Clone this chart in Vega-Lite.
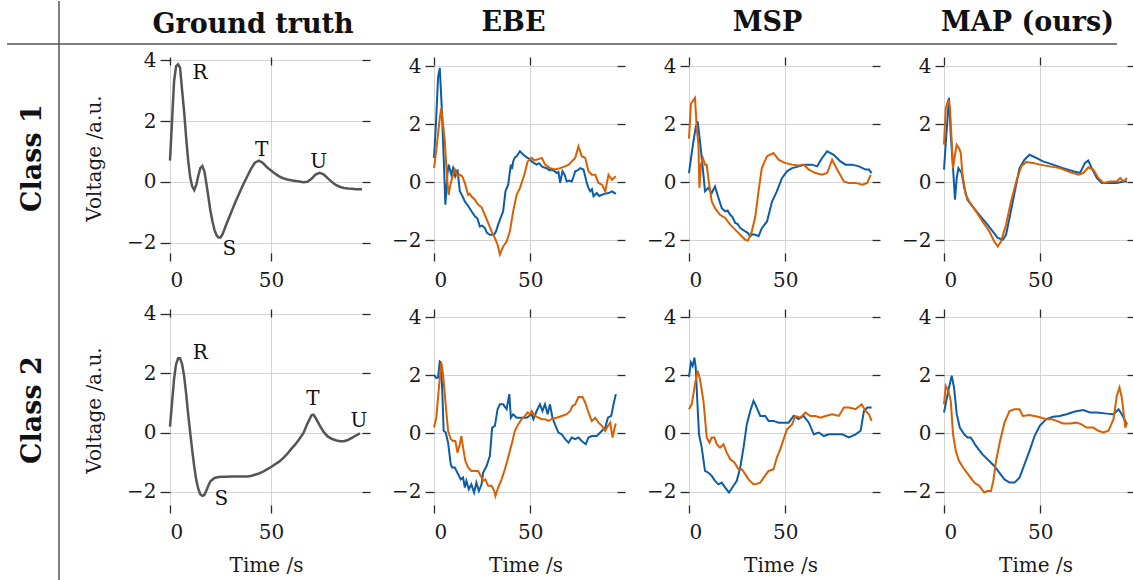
{
"$schema": "https://vega.github.io/schema/vega-lite/v6.json",
"padding": {"left": 6, "top": 0, "right": 0, "bottom": 0},
"bounds": "flush",
"spacing": 0,
"config": {
 "view": {"stroke": null},
 "font": "DejaVu Serif",
 "axis": {"domain": false, "labelFont": "DejaVu Serif", "labelFontSize": 20, "labelColor": "#1a1a1a", "titleFont": "DejaVu Serif", "titleFontSize": 20, "titleFontWeight": "normal", "titleColor": "#1a1a1a", "gridColor": "#d4d4d4", "gridWidth": 1, "tickColor": "#2a2a2a", "tickWidth": 1.3},
 "title": {"font": "DejaVu Serif", "fontWeight": "bold", "fontSize": 27, "color": "#111111"}
},
"datasets": {
 "gt1": [{"t":0,"v":0.7},{"t":1,"v":2.0},{"t":2,"v":3.3},{"t":3,"v":3.8},{"t":4,"v":3.87},{"t":5,"v":3.75},{"t":6,"v":3.0},{"t":7,"v":2.3},{"t":8,"v":1.45},{"t":9,"v":0.7},{"t":10,"v":0.14},{"t":11,"v":-0.15},{"t":12,"v":-0.27},{"t":13,"v":-0.1},{"t":14,"v":0.2},{"t":15,"v":0.45},{"t":16,"v":0.52},{"t":17,"v":0.35},{"t":18,"v":-0.05},{"t":19,"v":-0.5},{"t":20,"v":-0.95},{"t":21,"v":-1.3},{"t":22,"v":-1.58},{"t":23,"v":-1.75},{"t":24,"v":-1.83},{"t":25,"v":-1.83},{"t":26,"v":-1.72},{"t":27,"v":-1.55},{"t":28,"v":-1.38},{"t":30,"v":-1.05},{"t":32,"v":-0.72},{"t":34,"v":-0.42},{"t":36,"v":-0.12},{"t":38,"v":0.15},{"t":40,"v":0.42},{"t":42,"v":0.63},{"t":44,"v":0.7},{"t":46,"v":0.62},{"t":48,"v":0.48},{"t":50,"v":0.37},{"t":52,"v":0.27},{"t":54,"v":0.18},{"t":56,"v":0.12},{"t":58,"v":0.08},{"t":60,"v":0.05},{"t":62,"v":0.03},{"t":64,"v":0.01},{"t":66,"v":-0.01},{"t":68,"v":0.0},{"t":70,"v":0.1},{"t":72,"v":0.24},{"t":74,"v":0.3},{"t":76,"v":0.25},{"t":78,"v":0.12},{"t":80,"v":0.0},{"t":82,"v":-0.1},{"t":84,"v":-0.16},{"t":86,"v":-0.2},{"t":88,"v":-0.22},{"t":90,"v":-0.23},{"t":92,"v":-0.24},{"t":95,"v":-0.24}],
 "gt2": [{"t":0,"v":0.2},{"t":1,"v":1.0},{"t":2,"v":1.8},{"t":3,"v":2.3},{"t":4,"v":2.5},{"t":5,"v":2.5},{"t":6,"v":2.3},{"t":7,"v":1.9},{"t":8,"v":1.3},{"t":9,"v":0.6},{"t":10,"v":0.0},{"t":11,"v":-0.6},{"t":12,"v":-1.15},{"t":13,"v":-1.6},{"t":14,"v":-1.9},{"t":15,"v":-2.08},{"t":16,"v":-2.13},{"t":17,"v":-2.1},{"t":18,"v":-1.95},{"t":19,"v":-1.78},{"t":20,"v":-1.64},{"t":22,"v":-1.53},{"t":24,"v":-1.5},{"t":26,"v":-1.49},{"t":28,"v":-1.49},{"t":30,"v":-1.48},{"t":34,"v":-1.48},{"t":38,"v":-1.48},{"t":40,"v":-1.46},{"t":42,"v":-1.42},{"t":44,"v":-1.38},{"t":46,"v":-1.32},{"t":48,"v":-1.24},{"t":50,"v":-1.16},{"t":52,"v":-1.07},{"t":54,"v":-0.98},{"t":56,"v":-0.86},{"t":58,"v":-0.72},{"t":60,"v":-0.55},{"t":62,"v":-0.4},{"t":64,"v":-0.22},{"t":66,"v":-0.02},{"t":68,"v":0.3},{"t":70,"v":0.58},{"t":71,"v":0.6},{"t":72,"v":0.5},{"t":74,"v":0.25},{"t":76,"v":0.02},{"t":78,"v":-0.13},{"t":80,"v":-0.21},{"t":82,"v":-0.26},{"t":84,"v":-0.29},{"t":86,"v":-0.29},{"t":88,"v":-0.25},{"t":90,"v":-0.18},{"t":92,"v":-0.1},{"t":94,"v":-0.03}],
 "ann1": [{"t":14.9,"v":3.59,"lab":"R"},{"t":29.4,"v":-2.2,"lab":"S"},{"t":45.3,"v":1.05,"lab":"T"},{"t":73.6,"v":0.66,"lab":"U"}],
 "ann2": [{"t":15,"v":2.67,"lab":"R"},{"t":25.4,"v":-2.25,"lab":"S"},{"t":70.7,"v":1.12,"lab":"T"},{"t":93.5,"v":0.38,"lab":"U"}],
 "ebe1": [
  {"s":"a","t":0,"v":0.83},{"s":"a","t":1,"v":2.0},{"s":"a","t":2.1,"v":3.6},{"s":"a","t":3,"v":3.93},{"s":"a","t":4,"v":2.6},{"s":"a","t":5,"v":0.9},{"s":"a","t":5.9,"v":-0.78},{"s":"a","t":7,"v":0.3},{"s":"a","t":7.6,"v":0.6},{"s":"a","t":9,"v":0.25},{"s":"a","t":9.9,"v":0.48},{"s":"a","t":11,"v":0.2},{"s":"a","t":12.2,"v":0.43},{"s":"a","t":13.4,"v":-0.32},{"s":"a","t":14.5,"v":-0.45},{"s":"a","t":16,"v":-0.67},{"s":"a","t":17.5,"v":-0.8},{"s":"a","t":19.4,"v":-1.0},{"s":"a","t":21.2,"v":-1.18},{"s":"a","t":22.5,"v":-1.25},{"s":"a","t":23.8,"v":-1.53},{"s":"a","t":25,"v":-1.5},{"s":"a","t":26.4,"v":-1.59},{"s":"a","t":27.5,"v":-1.75},{"s":"a","t":29,"v":-1.82},{"s":"a","t":31.2,"v":-1.82},{"s":"a","t":32.2,"v":-1.7},{"s":"a","t":33.3,"v":-1.47},{"s":"a","t":34.5,"v":-1.25},{"s":"a","t":35.9,"v":-1.01},{"s":"a","t":37.1,"v":-0.32},{"s":"a","t":38.5,"v":-0.09},{"s":"a","t":39.9,"v":0.6},{"s":"a","t":40.5,"v":0.45},{"s":"a","t":41.1,"v":0.71},{"s":"a","t":42,"v":0.85},{"s":"a","t":42.9,"v":0.89},{"s":"a","t":44.6,"v":1.06},{"s":"a","t":46.4,"v":0.94},{"s":"a","t":48.1,"v":0.85},{"s":"a","t":49.5,"v":0.8},{"s":"a","t":50.7,"v":0.71},{"s":"a","t":52,"v":0.65},{"s":"a","t":53.3,"v":0.6},{"s":"a","t":54.5,"v":0.65},{"s":"a","t":56,"v":0.54},{"s":"a","t":57.2,"v":0.5},{"s":"a","t":58.5,"v":0.48},{"s":"a","t":60,"v":0.4},{"s":"a","t":61.1,"v":0.43},{"s":"a","t":62.5,"v":0.38},{"s":"a","t":63.7,"v":0.31},{"s":"a","t":64.6,"v":0.35},{"s":"a","t":65.5,"v":-0.03},{"s":"a","t":66.7,"v":0.37},{"s":"a","t":67.8,"v":0.25},{"s":"a","t":68.9,"v":0.02},{"s":"a","t":70,"v":0.05},{"s":"a","t":71.5,"v":0.02},{"s":"a","t":72.5,"v":0.2},{"s":"a","t":73.3,"v":0.37},{"s":"a","t":74.5,"v":0.4},{"s":"a","t":75.9,"v":0.48},{"s":"a","t":77.6,"v":0.43},{"s":"a","t":78.5,"v":0.2},{"s":"a","t":79.3,"v":-0.03},{"s":"a","t":80.2,"v":-0.2},{"s":"a","t":81.1,"v":-0.32},{"s":"a","t":82,"v":-0.25},{"s":"a","t":82.8,"v":-0.49},{"s":"a","t":84.5,"v":-0.38},{"s":"a","t":85.8,"v":-0.48},{"s":"a","t":87.2,"v":-0.44},{"s":"a","t":89,"v":-0.4},{"s":"a","t":90.6,"v":-0.38},{"s":"a","t":92.4,"v":-0.32},{"s":"a","t":94.4,"v":-0.41},
  {"s":"b","t":0,"v":0.48},{"s":"b","t":1,"v":1.0},{"s":"b","t":2,"v":1.6},{"s":"b","t":3,"v":2.2},{"s":"b","t":3.8,"v":2.55},{"s":"b","t":4.7,"v":2.0},{"s":"b","t":5.6,"v":1.4},{"s":"b","t":6.9,"v":0.02},{"s":"b","t":7.6,"v":-0.44},{"s":"b","t":8.5,"v":-0.1},{"s":"b","t":9.4,"v":0.14},{"s":"b","t":10.8,"v":0.43},{"s":"b","t":12.2,"v":0.2},{"s":"b","t":13.4,"v":0.25},{"s":"b","t":14.6,"v":0.2},{"s":"b","t":16,"v":-0.03},{"s":"b","t":17.7,"v":-0.44},{"s":"b","t":18.5,"v":-0.4},{"s":"b","t":19.4,"v":-0.49},{"s":"b","t":20.3,"v":-0.55},{"s":"b","t":21.2,"v":-0.61},{"s":"b","t":22.9,"v":-0.78},{"s":"b","t":24.7,"v":-0.87},{"s":"b","t":26.4,"v":-1.13},{"s":"b","t":28.1,"v":-1.41},{"s":"b","t":29.9,"v":-1.7},{"s":"b","t":31.6,"v":-1.93},{"s":"b","t":33,"v":-2.16},{"s":"b","t":34.2,"v":-2.5},{"s":"b","t":35.9,"v":-2.22},{"s":"b","t":37.7,"v":-2.05},{"s":"b","t":39.4,"v":-1.7},{"s":"b","t":41.1,"v":-1.01},{"s":"b","t":42.9,"v":-0.44},{"s":"b","t":44.6,"v":-0.21},{"s":"b","t":46.9,"v":0.25},{"s":"b","t":48.6,"v":0.71},{"s":"b","t":50.7,"v":0.83},{"s":"b","t":52,"v":0.75},{"s":"b","t":53.3,"v":0.77},{"s":"b","t":54.5,"v":0.8},{"s":"b","t":56,"v":0.83},{"s":"b","t":57.7,"v":0.6},{"s":"b","t":60.2,"v":0.48},{"s":"b","t":62.8,"v":0.43},{"s":"b","t":65.5,"v":0.48},{"s":"b","t":68,"v":0.54},{"s":"b","t":70,"v":0.6},{"s":"b","t":71.5,"v":0.71},{"s":"b","t":73.3,"v":0.83},{"s":"b","t":75,"v":1.23},{"s":"b","t":76.7,"v":0.89},{"s":"b","t":78.5,"v":0.83},{"s":"b","t":80.2,"v":0.37},{"s":"b","t":81.9,"v":0.25},{"s":"b","t":83.7,"v":0.25},{"s":"b","t":85.4,"v":-0.03},{"s":"b","t":87.2,"v":-0.09},{"s":"b","t":88.9,"v":-0.32},{"s":"b","t":90.6,"v":0.25},{"s":"b","t":92.4,"v":0.08},{"s":"b","t":94.4,"v":0.2}],
 "msp1": [
  {"s":"a","t":0,"v":0.31},{"s":"a","t":1,"v":0.8},{"s":"a","t":2.3,"v":1.4},{"s":"a","t":3.5,"v":1.9},{"s":"a","t":4.5,"v":2.09},{"s":"a","t":5.7,"v":1.4},{"s":"a","t":7.5,"v":0.25},{"s":"a","t":8.3,"v":-0.32},{"s":"a","t":10,"v":-0.2},{"s":"a","t":11.8,"v":-0.38},{"s":"a","t":13.5,"v":-0.15},{"s":"a","t":15.3,"v":-0.55},{"s":"a","t":17,"v":-0.9},{"s":"a","t":18.8,"v":-1.01},{"s":"a","t":20,"v":-0.98},{"s":"a","t":21.4,"v":-1.13},{"s":"a","t":22.5,"v":-1.2},{"s":"a","t":24,"v":-1.41},{"s":"a","t":25.3,"v":-1.45},{"s":"a","t":26.6,"v":-1.59},{"s":"a","t":29.2,"v":-1.7},{"s":"a","t":30.5,"v":-1.75},{"s":"a","t":31.8,"v":-1.87},{"s":"a","t":33,"v":-1.8},{"s":"a","t":34.4,"v":-1.82},{"s":"a","t":36.1,"v":-1.87},{"s":"a","t":37.8,"v":-1.59},{"s":"a","t":40.5,"v":-1.36},{"s":"a","t":43.1,"v":-0.67},{"s":"a","t":45.6,"v":-0.32},{"s":"a","t":48.3,"v":0.14},{"s":"a","t":50.9,"v":0.37},{"s":"a","t":53.5,"v":0.48},{"s":"a","t":57,"v":0.54},{"s":"a","t":60.4,"v":0.6},{"s":"a","t":63.9,"v":0.6},{"s":"a","t":66.5,"v":0.54},{"s":"a","t":69.1,"v":0.83},{"s":"a","t":71.7,"v":1.06},{"s":"a","t":73.5,"v":1.0},{"s":"a","t":75.1,"v":0.94},{"s":"a","t":78.6,"v":0.71},{"s":"a","t":81.3,"v":0.6},{"s":"a","t":84.7,"v":0.6},{"s":"a","t":88.2,"v":0.54},{"s":"a","t":91.7,"v":0.43},{"s":"a","t":93.4,"v":0.43},{"s":"a","t":94.8,"v":0.31},
  {"s":"b","t":0,"v":1.5},{"s":"b","t":1,"v":2.7},{"s":"b","t":2,"v":2.8},{"s":"b","t":3.1,"v":2.9},{"s":"b","t":4.1,"v":1.8},{"s":"b","t":4.9,"v":1.29},{"s":"b","t":5.4,"v":-0.2},{"s":"b","t":6.2,"v":0.6},{"s":"b","t":7.2,"v":0.83},{"s":"b","t":8.3,"v":0.6},{"s":"b","t":9.2,"v":0.6},{"s":"b","t":10,"v":0.14},{"s":"b","t":11.8,"v":-0.67},{"s":"b","t":13.5,"v":-0.9},{"s":"b","t":16.1,"v":-1.13},{"s":"b","t":18.8,"v":-1.24},{"s":"b","t":21.4,"v":-1.47},{"s":"b","t":24,"v":-1.64},{"s":"b","t":26.6,"v":-1.82},{"s":"b","t":29.2,"v":-1.99},{"s":"b","t":30.6,"v":-2.02},{"s":"b","t":32.6,"v":-1.7},{"s":"b","t":34.4,"v":-1.2},{"s":"b","t":36.1,"v":-0.32},{"s":"b","t":37.8,"v":0.48},{"s":"b","t":40.5,"v":0.89},{"s":"b","t":43.9,"v":1.0},{"s":"b","t":46.5,"v":0.77},{"s":"b","t":49.7,"v":0.66},{"s":"b","t":53.5,"v":0.6},{"s":"b","t":57,"v":0.57},{"s":"b","t":59.5,"v":0.6},{"s":"b","t":62.2,"v":0.43},{"s":"b","t":65.6,"v":0.31},{"s":"b","t":69.1,"v":0.25},{"s":"b","t":71.7,"v":0.31},{"s":"b","t":74.3,"v":0.77},{"s":"b","t":76.9,"v":0.43},{"s":"b","t":80.4,"v":0.02},{"s":"b","t":82.9,"v":-0.03},{"s":"b","t":86.5,"v":-0.03},{"s":"b","t":90,"v":-0.09},{"s":"b","t":92.5,"v":-0.03},{"s":"b","t":94.3,"v":0.25}],
 "map1": [
  {"s":"a","t":0,"v":0.43},{"s":"a","t":1.2,"v":1.63},{"s":"a","t":2.6,"v":2.9},{"s":"a","t":3.5,"v":1.63},{"s":"a","t":4.7,"v":0.48},{"s":"a","t":5.7,"v":-0.61},{"s":"a","t":6.6,"v":0.14},{"s":"a","t":7.5,"v":0.48},{"s":"a","t":9.2,"v":0.31},{"s":"a","t":10.5,"v":-0.2},{"s":"a","t":12.2,"v":-0.61},{"s":"a","t":14.8,"v":-0.84},{"s":"a","t":18.3,"v":-1.13},{"s":"a","t":21.8,"v":-1.41},{"s":"a","t":25.3,"v":-1.7},{"s":"a","t":27.9,"v":-1.93},{"s":"a","t":30.5,"v":-1.99},{"s":"a","t":32.2,"v":-1.82},{"s":"a","t":34,"v":-1.24},{"s":"a","t":36.6,"v":-0.38},{"s":"a","t":39.2,"v":0.48},{"s":"a","t":41.8,"v":0.77},{"s":"a","t":44.4,"v":0.94},{"s":"a","t":47.9,"v":0.83},{"s":"a","t":51.4,"v":0.71},{"s":"a","t":56.6,"v":0.6},{"s":"a","t":61.8,"v":0.48},{"s":"a","t":67.1,"v":0.37},{"s":"a","t":70.6,"v":0.31},{"s":"a","t":73.2,"v":0.66},{"s":"a","t":74.9,"v":0.74},{"s":"a","t":76.7,"v":0.48},{"s":"a","t":79.3,"v":0.14},{"s":"a","t":81.9,"v":-0.03},{"s":"a","t":86.2,"v":-0.03},{"s":"a","t":89.7,"v":-0.03},{"s":"a","t":93.2,"v":0.02},{"s":"a","t":95,"v":0.02},
  {"s":"b","t":0,"v":1.29},{"s":"b","t":0.9,"v":2.55},{"s":"b","t":2.3,"v":2.84},{"s":"b","t":3.1,"v":2.55},{"s":"b","t":4.7,"v":0.48},{"s":"b","t":5.7,"v":0.94},{"s":"b","t":6.6,"v":1.29},{"s":"b","t":7.8,"v":1.17},{"s":"b","t":8.7,"v":1.0},{"s":"b","t":9.6,"v":0.25},{"s":"b","t":11.3,"v":-0.44},{"s":"b","t":13.1,"v":-0.67},{"s":"b","t":16.6,"v":-1.01},{"s":"b","t":20,"v":-1.36},{"s":"b","t":23.5,"v":-1.7},{"s":"b","t":26.1,"v":-2.05},{"s":"b","t":27.9,"v":-2.22},{"s":"b","t":29.6,"v":-2.05},{"s":"b","t":32.2,"v":-1.47},{"s":"b","t":34.8,"v":-0.67},{"s":"b","t":37.5,"v":0.02},{"s":"b","t":40.1,"v":0.54},{"s":"b","t":42.7,"v":0.69},{"s":"b","t":46.2,"v":0.66},{"s":"b","t":49.7,"v":0.6},{"s":"b","t":54.9,"v":0.54},{"s":"b","t":60.1,"v":0.48},{"s":"b","t":65.3,"v":0.34},{"s":"b","t":69.7,"v":0.25},{"s":"b","t":72.3,"v":0.31},{"s":"b","t":74.9,"v":0.51},{"s":"b","t":77.5,"v":0.43},{"s":"b","t":80.1,"v":0.14},{"s":"b","t":82.8,"v":-0.03},{"s":"b","t":86.2,"v":0.02},{"s":"b","t":89.7,"v":0.02},{"s":"b","t":91.5,"v":0.14},{"s":"b","t":93.2,"v":0.02},{"s":"b","t":95,"v":0.14}],
 "ebe2": [
  {"s":"a","t":0,"v":2.01},{"s":"a","t":1.2,"v":1.9},{"s":"a","t":2.1,"v":1.92},{"s":"a","t":3,"v":2.47},{"s":"a","t":3.5,"v":2.44},{"s":"a","t":4.3,"v":1.46},{"s":"a","t":5,"v":0.09},{"s":"a","t":6.1,"v":0.03},{"s":"a","t":7.3,"v":-0.32},{"s":"a","t":8.7,"v":-1.06},{"s":"a","t":9.4,"v":-1.17},{"s":"a","t":10.8,"v":-1.17},{"s":"a","t":12.5,"v":-1.4},{"s":"a","t":13.9,"v":-1.58},{"s":"a","t":15.1,"v":-1.52},{"s":"a","t":16,"v":-1.86},{"s":"a","t":16.8,"v":-1.63},{"s":"a","t":18.1,"v":-1.92},{"s":"a","t":19.4,"v":-1.75},{"s":"a","t":20.8,"v":-2.03},{"s":"a","t":22,"v":-1.69},{"s":"a","t":23.3,"v":-1.98},{"s":"a","t":24.7,"v":-1.75},{"s":"a","t":25.5,"v":-1.35},{"s":"a","t":27.3,"v":-1.12},{"s":"a","t":29,"v":-0.77},{"s":"a","t":30.2,"v":0.2},{"s":"a","t":31.6,"v":0.26},{"s":"a","t":33,"v":0.83},{"s":"a","t":34.2,"v":1.0},{"s":"a","t":35.9,"v":1.0},{"s":"a","t":37.7,"v":0.83},{"s":"a","t":39.1,"v":1.35},{"s":"a","t":39.9,"v":0.54},{"s":"a","t":41.1,"v":0.66},{"s":"a","t":42.9,"v":0.54},{"s":"a","t":45.5,"v":0.54},{"s":"a","t":48.1,"v":0.54},{"s":"a","t":50.7,"v":0.66},{"s":"a","t":51.6,"v":0.49},{"s":"a","t":53.3,"v":0.77},{"s":"a","t":55,"v":1.0},{"s":"a","t":56.3,"v":0.77},{"s":"a","t":57.6,"v":1.0},{"s":"a","t":59,"v":0.66},{"s":"a","t":60.2,"v":1.0},{"s":"a","t":61.5,"v":0.54},{"s":"a","t":62.8,"v":0.31},{"s":"a","t":64.6,"v":0.03},{"s":"a","t":66.3,"v":-0.03},{"s":"a","t":68.1,"v":-0.2},{"s":"a","t":69.8,"v":-0.32},{"s":"a","t":71.5,"v":-0.14},{"s":"a","t":73.3,"v":-0.2},{"s":"a","t":75,"v":-0.14},{"s":"a","t":76.7,"v":-0.26},{"s":"a","t":78.8,"v":-0.37},{"s":"a","t":80.2,"v":-0.14},{"s":"a","t":81.9,"v":-0.09},{"s":"a","t":84.5,"v":-0.09},{"s":"a","t":87.2,"v":0.09},{"s":"a","t":88.9,"v":0.2},{"s":"a","t":90.3,"v":0.54},{"s":"a","t":92,"v":0.6},{"s":"a","t":93.2,"v":1.0},{"s":"a","t":94.4,"v":1.35},
  {"s":"b","t":0,"v":0.2},{"s":"b","t":1.2,"v":0.54},{"s":"b","t":2.4,"v":1.46},{"s":"b","t":3.8,"v":2.44},{"s":"b","t":4.7,"v":2.03},{"s":"b","t":5.9,"v":1.12},{"s":"b","t":7.3,"v":0.09},{"s":"b","t":8.7,"v":-0.2},{"s":"b","t":9.9,"v":-0.26},{"s":"b","t":11.1,"v":-0.26},{"s":"b","t":12.2,"v":-0.66},{"s":"b","t":13.4,"v":-0.37},{"s":"b","t":14.2,"v":-0.09},{"s":"b","t":15.1,"v":-0.49},{"s":"b","t":16.3,"v":-0.95},{"s":"b","t":17.7,"v":-1.17},{"s":"b","t":19.4,"v":-1.29},{"s":"b","t":21.2,"v":-1.29},{"s":"b","t":22.9,"v":-1.29},{"s":"b","t":24.3,"v":-1.46},{"s":"b","t":25.5,"v":-1.63},{"s":"b","t":26.7,"v":-1.58},{"s":"b","t":28.1,"v":-1.8},{"s":"b","t":29.9,"v":-1.8},{"s":"b","t":31.3,"v":-1.98},{"s":"b","t":31.9,"v":-2.15},{"s":"b","t":33.3,"v":-1.86},{"s":"b","t":35.1,"v":-1.58},{"s":"b","t":36.8,"v":-1.23},{"s":"b","t":38.5,"v":-0.83},{"s":"b","t":40.3,"v":-0.37},{"s":"b","t":42,"v":0.09},{"s":"b","t":43.7,"v":0.31},{"s":"b","t":45.5,"v":0.49},{"s":"b","t":47.2,"v":0.6},{"s":"b","t":48.6,"v":0.72},{"s":"b","t":49.8,"v":0.66},{"s":"b","t":50.7,"v":0.77},{"s":"b","t":52.4,"v":0.6},{"s":"b","t":54.2,"v":0.54},{"s":"b","t":55.9,"v":0.49},{"s":"b","t":57.6,"v":0.49},{"s":"b","t":59.4,"v":0.43},{"s":"b","t":61.1,"v":0.49},{"s":"b","t":63.7,"v":0.54},{"s":"b","t":66.3,"v":0.6},{"s":"b","t":68.9,"v":0.66},{"s":"b","t":70.7,"v":0.77},{"s":"b","t":71.9,"v":0.94},{"s":"b","t":73.3,"v":1.0},{"s":"b","t":75,"v":1.25},{"s":"b","t":77.1,"v":1.25},{"s":"b","t":78.5,"v":1.06},{"s":"b","t":80.2,"v":0.72},{"s":"b","t":81.9,"v":0.43},{"s":"b","t":83.7,"v":0.54},{"s":"b","t":85.4,"v":0.37},{"s":"b","t":87.2,"v":0.26},{"s":"b","t":88.9,"v":0.09},{"s":"b","t":90.3,"v":0.26},{"s":"b","t":91.5,"v":0.37},{"s":"b","t":92.7,"v":-0.14},{"s":"b","t":93.8,"v":0.2},{"s":"b","t":94.4,"v":0.34}],
 "msp2": [
  {"s":"a","t":0,"v":1.94},{"s":"a","t":1,"v":2.44},{"s":"a","t":1.9,"v":2.32},{"s":"a","t":2.8,"v":2.6},{"s":"a","t":3.5,"v":2.26},{"s":"a","t":4.3,"v":1.12},{"s":"a","t":5.2,"v":-0.03},{"s":"a","t":6.6,"v":-0.49},{"s":"a","t":8.3,"v":-1.29},{"s":"a","t":10.1,"v":-1.35},{"s":"a","t":11.8,"v":-1.46},{"s":"a","t":13.5,"v":-1.63},{"s":"a","t":15.3,"v":-1.75},{"s":"a","t":17,"v":-1.69},{"s":"a","t":18.8,"v":-1.86},{"s":"a","t":20.8,"v":-2.03},{"s":"a","t":23.1,"v":-1.8},{"s":"a","t":24.8,"v":-1.63},{"s":"a","t":26.6,"v":-1.17},{"s":"a","t":28.3,"v":-0.49},{"s":"a","t":30,"v":0.31},{"s":"a","t":31.8,"v":0.77},{"s":"a","t":33.5,"v":1.12},{"s":"a","t":34.4,"v":1.0},{"s":"a","t":37,"v":0.6},{"s":"a","t":39.6,"v":0.6},{"s":"a","t":41.3,"v":0.43},{"s":"a","t":43.9,"v":0.43},{"s":"a","t":46.5,"v":0.37},{"s":"a","t":49.1,"v":0.37},{"s":"a","t":51.7,"v":0.37},{"s":"a","t":54.3,"v":0.6},{"s":"a","t":56.9,"v":0.49},{"s":"a","t":59.5,"v":0.6},{"s":"a","t":62.2,"v":0.37},{"s":"a","t":64.8,"v":-0.03},{"s":"a","t":67.4,"v":0.03},{"s":"a","t":70,"v":-0.09},{"s":"a","t":72.6,"v":-0.03},{"s":"a","t":76.1,"v":-0.03},{"s":"a","t":79.5,"v":-0.03},{"s":"a","t":83,"v":-0.14},{"s":"a","t":86.5,"v":-0.03},{"s":"a","t":89.1,"v":0.09},{"s":"a","t":90.8,"v":0.77},{"s":"a","t":92.6,"v":0.89},{"s":"a","t":94.8,"v":0.89},
  {"s":"b","t":0,"v":0.83},{"s":"b","t":1.4,"v":1.0},{"s":"b","t":3.1,"v":1.69},{"s":"b","t":4.5,"v":2.15},{"s":"b","t":5.7,"v":1.86},{"s":"b","t":7.5,"v":1.12},{"s":"b","t":9.2,"v":-0.14},{"s":"b","t":10.6,"v":-0.32},{"s":"b","t":11.8,"v":-0.14},{"s":"b","t":13.2,"v":-0.14},{"s":"b","t":14.4,"v":-0.37},{"s":"b","t":16.1,"v":-0.49},{"s":"b","t":17.9,"v":-0.37},{"s":"b","t":19.6,"v":-0.66},{"s":"b","t":21.4,"v":-0.89},{"s":"b","t":23.6,"v":-1.0},{"s":"b","t":25.7,"v":-1.23},{"s":"b","t":27.4,"v":-1.23},{"s":"b","t":29.2,"v":-1.4},{"s":"b","t":30.9,"v":-1.58},{"s":"b","t":33.5,"v":-1.75},{"s":"b","t":34.4,"v":-1.75},{"s":"b","t":37,"v":-1.69},{"s":"b","t":38.8,"v":-1.52},{"s":"b","t":41.3,"v":-1.29},{"s":"b","t":43.9,"v":-1.23},{"s":"b","t":45.6,"v":-0.83},{"s":"b","t":47.4,"v":-0.54},{"s":"b","t":49.1,"v":-0.2},{"s":"b","t":50.9,"v":0.14},{"s":"b","t":53.5,"v":0.31},{"s":"b","t":55.2,"v":0.6},{"s":"b","t":57.8,"v":0.54},{"s":"b","t":60.4,"v":0.72},{"s":"b","t":63,"v":0.6},{"s":"b","t":65.6,"v":0.6},{"s":"b","t":68.3,"v":0.54},{"s":"b","t":70.9,"v":0.6},{"s":"b","t":74.3,"v":0.66},{"s":"b","t":77.8,"v":0.6},{"s":"b","t":80.4,"v":0.89},{"s":"b","t":83,"v":0.89},{"s":"b","t":86.5,"v":0.83},{"s":"b","t":89.6,"v":1.0},{"s":"b","t":91.7,"v":0.77},{"s":"b","t":93.4,"v":0.66},{"s":"b","t":94.8,"v":0.43}],
 "map2": [
  {"s":"a","t":0,"v":0.72},{"s":"a","t":1.2,"v":1.12},{"s":"a","t":2.6,"v":1.58},{"s":"a","t":4,"v":1.98},{"s":"a","t":5.2,"v":1.58},{"s":"a","t":6.6,"v":0.66},{"s":"a","t":8.2,"v":0.2},{"s":"a","t":10.5,"v":-0.03},{"s":"a","t":12.2,"v":-0.14},{"s":"a","t":13.9,"v":-0.14},{"s":"a","t":16.6,"v":-0.43},{"s":"a","t":20,"v":-0.72},{"s":"a","t":23.5,"v":-0.95},{"s":"a","t":26.1,"v":-1.12},{"s":"a","t":28.7,"v":-1.35},{"s":"a","t":31.4,"v":-1.58},{"s":"a","t":34,"v":-1.69},{"s":"a","t":36.6,"v":-1.69},{"s":"a","t":39.2,"v":-1.52},{"s":"a","t":41.8,"v":-1.06},{"s":"a","t":44.4,"v":-0.6},{"s":"a","t":47,"v":-0.09},{"s":"a","t":49.7,"v":0.26},{"s":"a","t":53.1,"v":0.49},{"s":"a","t":56.6,"v":0.57},{"s":"a","t":60.1,"v":0.6},{"s":"a","t":63.6,"v":0.66},{"s":"a","t":67.9,"v":0.75},{"s":"a","t":72.3,"v":0.8},{"s":"a","t":75.8,"v":0.72},{"s":"a","t":79.3,"v":0.72},{"s":"a","t":84.5,"v":0.68},{"s":"a","t":88,"v":0.66},{"s":"a","t":90.6,"v":0.83},{"s":"a","t":92.3,"v":0.66},{"s":"a","t":95,"v":0.31},
  {"s":"b","t":0,"v":1.0},{"s":"b","t":0.9,"v":1.63},{"s":"b","t":2.3,"v":1.46},{"s":"b","t":3.5,"v":1.12},{"s":"b","t":4.7,"v":-0.03},{"s":"b","t":6.1,"v":-0.6},{"s":"b","t":7.8,"v":-0.95},{"s":"b","t":10.5,"v":-1.23},{"s":"b","t":13.1,"v":-1.46},{"s":"b","t":15.7,"v":-1.69},{"s":"b","t":18.3,"v":-1.8},{"s":"b","t":20.9,"v":-2.03},{"s":"b","t":22.6,"v":-1.98},{"s":"b","t":24.4,"v":-1.98},{"s":"b","t":25.6,"v":-1.63},{"s":"b","t":27,"v":-0.95},{"s":"b","t":29.1,"v":-0.26},{"s":"b","t":31.4,"v":0.37},{"s":"b","t":34,"v":0.77},{"s":"b","t":36.6,"v":0.83},{"s":"b","t":39.2,"v":0.83},{"s":"b","t":40.9,"v":0.6},{"s":"b","t":44.4,"v":0.63},{"s":"b","t":48.8,"v":0.57},{"s":"b","t":53.1,"v":0.49},{"s":"b","t":55.7,"v":0.49},{"s":"b","t":58.4,"v":0.43},{"s":"b","t":61.8,"v":0.34},{"s":"b","t":65.3,"v":0.34},{"s":"b","t":68.8,"v":0.37},{"s":"b","t":71.4,"v":0.31},{"s":"b","t":74,"v":0.2},{"s":"b","t":77.5,"v":0.2},{"s":"b","t":80.1,"v":0.09},{"s":"b","t":82.8,"v":0.03},{"s":"b","t":85.4,"v":0.09},{"s":"b","t":88,"v":0.49},{"s":"b","t":89.7,"v":1.29},{"s":"b","t":91.1,"v":1.58},{"s":"b","t":92.3,"v":1.23},{"s":"b","t":94.1,"v":0.2},{"s":"b","t":95,"v":0.37}]
},
"hconcat": [
 {"width": 52, "height": 580, "data": {"values": [{}]}, "layer": [
   {"mark": {"type": "rule", "color": "#555555", "strokeWidth": 1.5}, "encoding": {"y": {"datum": 0.926, "type": "quantitative", "scale": {"domain": [0, 1]}, "axis": null}}},
   {"mark": {"type": "rule", "color": "#555555", "strokeWidth": 1.5}, "encoding": {"x": {"datum": 1, "type": "quantitative", "scale": {"domain": [0, 1]}, "axis": null}}}
 ]},
 {"vconcat": [
   {"width": 1058, "height": 43, "data": {"values": [{}]}, "mark": {"type": "rule", "color": "#555555", "strokeWidth": 1.5}, "encoding": {"y": {"datum": 0, "type": "quantitative", "scale": {"domain": [0, 1]}, "axis": null}}},
   {"concat": [
       {"width": 39, "height": 196, "title": {"text": "Class 1", "orient": "left", "anchor": "middle", "offset": 12}, "data": {"values": [{}]}, "mark": {"type": "point", "opacity": 0}},
       {"width": 192, "height": 196, "title": {"text": "Ground truth", "frame": "group", "dx": -13, "dy": 33, "offset": 23, "baseline": "alphabetic"},
        "data": {"name": "gt1"},
        "layer": [
         {"mark": {"type": "line", "color": "#555555", "strokeWidth": 2.5},
          "encoding": {
           "x": {"field": "t", "type": "quantitative", "scale": {"domain": [0, 95], "nice": false, "zero": false}, "axis": {"values": [0, 50], "orient": "bottom", "offset": -3, "tickSize": 8, "labelPadding": 9, "grid": true, "title": null}},
           "y": {"field": "v", "type": "quantitative", "scale": {"domain": [-2.44, 4.01], "nice": false, "zero": false}, "axis": {"values": [-2, 0, 2, 4], "orient": "left", "tickSize": 10, "labelPadding": 4, "grid": true, "title": "Voltage /a.u.", "titlePadding": 22}}}},
         {"mark": {"type": "point", "opacity": 0},
          "encoding": {
           "x": {"field": "t", "type": "quantitative", "scale": {"domain": [0, 95], "nice": false, "zero": false}, "axis": {"values": [0, 50], "orient": "top", "offset": -5, "tickSize": 8, "labels": false, "grid": false, "title": null}},
           "y": {"field": "v", "type": "quantitative", "scale": {"domain": [-2.44, 4.01], "nice": false, "zero": false}, "axis": {"values": [-2, 0, 2, 4], "orient": "right", "tickSize": 8, "labels": false, "grid": false, "title": null}}}},
         {"data": {"name": "ann1"}, "mark": {"type": "text", "fontSize": 20, "font": "DejaVu Serif", "color": "#111111", "baseline": "middle"},
          "encoding": {"x": {"field": "t", "type": "quantitative", "axis": null}, "y": {"field": "v", "type": "quantitative", "axis": null}, "text": {"field": "lab"}}}
        ],
        "resolve": {"axis": {"x": "independent", "y": "independent"}}},
       {"width": 183, "height": 196, "title": {"text": "EBE", "frame": "group", "dx": -12, "dy": 25, "offset": 23, "baseline": "alphabetic"},
        "data": {"name": "ebe1"},
        "layer": [
         {"mark": {"type": "line", "strokeWidth": 2},
          "encoding": {
           "x": {"field": "t", "type": "quantitative", "scale": {"domain": [0, 95], "nice": false, "zero": false}, "axis": {"values": [0, 50], "orient": "bottom", "offset": -3, "tickSize": 8, "labelPadding": 9, "grid": true, "title": null}},
           "y": {"field": "v", "type": "quantitative", "scale": {"domain": [-2.55, 4.207], "nice": false, "zero": false}, "axis": {"values": [-2, 0, 2, 4], "orient": "left", "tickSize": 9, "labelPadding": 4, "grid": true, "title": null}},
           "color": {"field": "s", "type": "nominal", "scale": {"domain": ["a", "b"], "range": ["#0C5DA5", "#D95F02"]}, "legend": null}}},
         {"mark": {"type": "point", "opacity": 0},
          "encoding": {
           "x": {"field": "t", "type": "quantitative", "scale": {"domain": [0, 95], "nice": false, "zero": false}, "axis": {"values": [0, 50], "orient": "top", "offset": -5, "tickSize": 8, "labels": false, "grid": false, "title": null}},
           "y": {"field": "v", "type": "quantitative", "scale": {"domain": [-2.55, 4.207], "nice": false, "zero": false}, "axis": {"values": [-2, 0, 2, 4], "orient": "right", "tickSize": 8, "labels": false, "grid": false, "title": null}}}}
        ],
        "resolve": {"axis": {"x": "independent", "y": "independent"}}},
       {"width": 183, "height": 196, "title": {"text": "MSP", "frame": "group", "dx": -13, "dy": 25, "offset": 23, "baseline": "alphabetic"},
        "data": {"name": "msp1"},
        "layer": [
         {"mark": {"type": "line", "strokeWidth": 2},
          "encoding": {
           "x": {"field": "t", "type": "quantitative", "scale": {"domain": [0, 95], "nice": false, "zero": false}, "axis": {"values": [0, 50], "orient": "bottom", "offset": -3, "tickSize": 8, "labelPadding": 9, "grid": true, "title": null}},
           "y": {"field": "v", "type": "quantitative", "scale": {"domain": [-2.55, 4.207], "nice": false, "zero": false}, "axis": {"values": [-2, 0, 2, 4], "orient": "left", "tickSize": 9, "labelPadding": 4, "grid": true, "title": null}},
           "color": {"field": "s", "type": "nominal", "scale": {"domain": ["a", "b"], "range": ["#0C5DA5", "#D95F02"]}, "legend": null}}},
         {"mark": {"type": "point", "opacity": 0},
          "encoding": {
           "x": {"field": "t", "type": "quantitative", "scale": {"domain": [0, 95], "nice": false, "zero": false}, "axis": {"values": [0, 50], "orient": "top", "offset": -5, "tickSize": 8, "labels": false, "grid": false, "title": null}},
           "y": {"field": "v", "type": "quantitative", "scale": {"domain": [-2.55, 4.207], "nice": false, "zero": false}, "axis": {"values": [-2, 0, 2, 4], "orient": "right", "tickSize": 8, "labels": false, "grid": false, "title": null}}}}
        ],
        "resolve": {"axis": {"x": "independent", "y": "independent"}}},
       {"width": 183, "height": 196, "title": {"text": "MAP (ours)", "frame": "group", "dx": -8, "dy": 25, "offset": 23, "baseline": "alphabetic"},
        "data": {"name": "map1"},
        "layer": [
         {"mark": {"type": "line", "strokeWidth": 2},
          "encoding": {
           "x": {"field": "t", "type": "quantitative", "scale": {"domain": [0, 95], "nice": false, "zero": false}, "axis": {"values": [0, 50], "orient": "bottom", "offset": -3, "tickSize": 8, "labelPadding": 9, "grid": true, "title": null}},
           "y": {"field": "v", "type": "quantitative", "scale": {"domain": [-2.55, 4.207], "nice": false, "zero": false}, "axis": {"values": [-2, 0, 2, 4], "orient": "left", "tickSize": 9, "labelPadding": 4, "grid": true, "title": null}},
           "color": {"field": "s", "type": "nominal", "scale": {"domain": ["a", "b"], "range": ["#0C5DA5", "#D95F02"]}, "legend": null}}},
         {"mark": {"type": "point", "opacity": 0},
          "encoding": {
           "x": {"field": "t", "type": "quantitative", "scale": {"domain": [0, 95], "nice": false, "zero": false}, "axis": {"values": [0, 50], "orient": "top", "offset": -5, "tickSize": 8, "labels": false, "grid": false, "title": null}},
           "y": {"field": "v", "type": "quantitative", "scale": {"domain": [-2.55, 4.207], "nice": false, "zero": false}, "axis": {"values": [-2, 0, 2, 4], "orient": "right", "tickSize": 8, "labels": false, "grid": false, "title": null}}}}
        ],
        "resolve": {"axis": {"x": "independent", "y": "independent"}}},
       {"width": 39, "height": 196, "title": {"text": "Class 2", "orient": "left", "anchor": "middle", "offset": 12}, "data": {"values": [{}]}, "mark": {"type": "point", "opacity": 0}},
       {"width": 192, "height": 196,
        "data": {"name": "gt2"},
        "layer": [
         {"mark": {"type": "line", "color": "#555555", "strokeWidth": 2.5},
          "encoding": {
           "x": {"field": "t", "type": "quantitative", "scale": {"domain": [0, 95], "nice": false, "zero": false}, "axis": {"values": [0, 50], "orient": "bottom", "offset": -3, "tickSize": 8, "labelPadding": 9, "grid": true, "title": "Time /s", "titlePadding": 13}},
           "y": {"field": "v", "type": "quantitative", "scale": {"domain": [-2.54, 4.057], "nice": false, "zero": false}, "axis": {"values": [-2, 0, 2, 4], "orient": "left", "tickSize": 10, "labelPadding": 4, "grid": true, "title": "Voltage /a.u.", "titlePadding": 22}}}},
         {"mark": {"type": "point", "opacity": 0},
          "encoding": {
           "x": {"field": "t", "type": "quantitative", "scale": {"domain": [0, 95], "nice": false, "zero": false}, "axis": {"values": [0, 50], "orient": "top", "offset": -5, "tickSize": 8, "labels": false, "grid": false, "title": null}},
           "y": {"field": "v", "type": "quantitative", "scale": {"domain": [-2.54, 4.057], "nice": false, "zero": false}, "axis": {"values": [-2, 0, 2, 4], "orient": "right", "tickSize": 8, "labels": false, "grid": false, "title": null}}}},
         {"data": {"name": "ann2"}, "mark": {"type": "text", "fontSize": 20, "font": "DejaVu Serif", "color": "#111111", "baseline": "middle"},
          "encoding": {"x": {"field": "t", "type": "quantitative", "axis": null}, "y": {"field": "v", "type": "quantitative", "axis": null}, "text": {"field": "lab"}}}
        ],
        "resolve": {"axis": {"x": "independent", "y": "independent"}}},
       {"width": 183, "height": 196,
        "data": {"name": "ebe2"},
        "layer": [
         {"mark": {"type": "line", "strokeWidth": 2},
          "encoding": {
           "x": {"field": "t", "type": "quantitative", "scale": {"domain": [0, 95], "nice": false, "zero": false}, "axis": {"values": [0, 50], "orient": "bottom", "offset": -3, "tickSize": 8, "labelPadding": 9, "grid": true, "title": "Time /s", "titlePadding": 13}},
           "y": {"field": "v", "type": "quantitative", "scale": {"domain": [-2.563, 4.172], "nice": false, "zero": false}, "axis": {"values": [-2, 0, 2, 4], "orient": "left", "tickSize": 9, "labelPadding": 4, "grid": true, "title": null}},
           "color": {"field": "s", "type": "nominal", "scale": {"domain": ["a", "b"], "range": ["#0C5DA5", "#D95F02"]}, "legend": null}}},
         {"mark": {"type": "point", "opacity": 0},
          "encoding": {
           "x": {"field": "t", "type": "quantitative", "scale": {"domain": [0, 95], "nice": false, "zero": false}, "axis": {"values": [0, 50], "orient": "top", "offset": -5, "tickSize": 8, "labels": false, "grid": false, "title": null}},
           "y": {"field": "v", "type": "quantitative", "scale": {"domain": [-2.563, 4.172], "nice": false, "zero": false}, "axis": {"values": [-2, 0, 2, 4], "orient": "right", "tickSize": 8, "labels": false, "grid": false, "title": null}}}}
        ],
        "resolve": {"axis": {"x": "independent", "y": "independent"}}},
       {"width": 183, "height": 196,
        "data": {"name": "msp2"},
        "layer": [
         {"mark": {"type": "line", "strokeWidth": 2},
          "encoding": {
           "x": {"field": "t", "type": "quantitative", "scale": {"domain": [0, 95], "nice": false, "zero": false}, "axis": {"values": [0, 50], "orient": "bottom", "offset": -3, "tickSize": 8, "labelPadding": 9, "grid": true, "title": "Time /s", "titlePadding": 13}},
           "y": {"field": "v", "type": "quantitative", "scale": {"domain": [-2.563, 4.172], "nice": false, "zero": false}, "axis": {"values": [-2, 0, 2, 4], "orient": "left", "tickSize": 9, "labelPadding": 4, "grid": true, "title": null}},
           "color": {"field": "s", "type": "nominal", "scale": {"domain": ["a", "b"], "range": ["#0C5DA5", "#D95F02"]}, "legend": null}}},
         {"mark": {"type": "point", "opacity": 0},
          "encoding": {
           "x": {"field": "t", "type": "quantitative", "scale": {"domain": [0, 95], "nice": false, "zero": false}, "axis": {"values": [0, 50], "orient": "top", "offset": -5, "tickSize": 8, "labels": false, "grid": false, "title": null}},
           "y": {"field": "v", "type": "quantitative", "scale": {"domain": [-2.563, 4.172], "nice": false, "zero": false}, "axis": {"values": [-2, 0, 2, 4], "orient": "right", "tickSize": 8, "labels": false, "grid": false, "title": null}}}}
        ],
        "resolve": {"axis": {"x": "independent", "y": "independent"}}},
       {"width": 183, "height": 196,
        "data": {"name": "map2"},
        "layer": [
         {"mark": {"type": "line", "strokeWidth": 2},
          "encoding": {
           "x": {"field": "t", "type": "quantitative", "scale": {"domain": [0, 95], "nice": false, "zero": false}, "axis": {"values": [0, 50], "orient": "bottom", "offset": -3, "tickSize": 8, "labelPadding": 9, "grid": true, "title": "Time /s", "titlePadding": 13}},
           "y": {"field": "v", "type": "quantitative", "scale": {"domain": [-2.563, 4.172], "nice": false, "zero": false}, "axis": {"values": [-2, 0, 2, 4], "orient": "left", "tickSize": 9, "labelPadding": 4, "grid": true, "title": null}},
           "color": {"field": "s", "type": "nominal", "scale": {"domain": ["a", "b"], "range": ["#0C5DA5", "#D95F02"]}, "legend": null}}},
         {"mark": {"type": "point", "opacity": 0},
          "encoding": {
           "x": {"field": "t", "type": "quantitative", "scale": {"domain": [0, 95], "nice": false, "zero": false}, "axis": {"values": [0, 50], "orient": "top", "offset": -5, "tickSize": 8, "labels": false, "grid": false, "title": null}},
           "y": {"field": "v", "type": "quantitative", "scale": {"domain": [-2.563, 4.172], "nice": false, "zero": false}, "axis": {"values": [-2, 0, 2, 4], "orient": "right", "tickSize": 8, "labels": false, "grid": false, "title": null}}}}
        ],
        "resolve": {"axis": {"x": "independent", "y": "independent"}}}
    ], "columns": 5, "spacing": {"row": 56, "column": 72}, "bounds": "flush"}
  ], "spacing": 16, "bounds": "flush"}
]
}
